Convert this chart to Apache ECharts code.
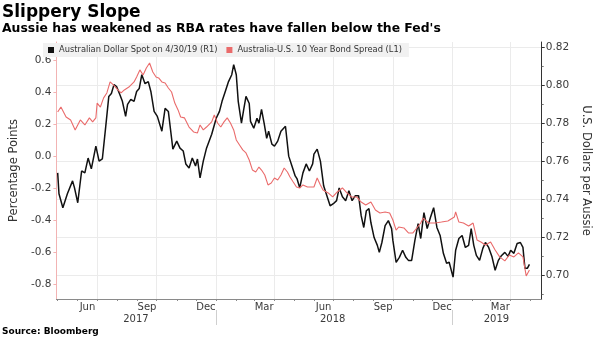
<!DOCTYPE html>
<html>
<head>
<meta charset="utf-8">
<script src="https://cdn.jsdelivr.net/npm/echarts@6/dist/echarts.min.js"></script>
<style>
  html, body { margin: 0; padding: 0; background: #ffffff; }
  #chart { width: 600px; height: 337px; }
</style>
</head>
<body>
<div id="chart"></div>
<script>
// Australian dollar spot, U.S. dollars per Aussie (right axis)
const audSpot = [
  ['2017-05-01', 0.7538], ['2017-05-03', 0.7428], ['2017-05-09', 0.7355], ['2017-05-16', 0.7428],
  ['2017-05-24', 0.7496], ['2017-05-27', 0.7459], ['2017-06-01', 0.7381], ['2017-06-07', 0.7548],
  ['2017-06-12', 0.7538], ['2017-06-17', 0.7616], ['2017-06-22', 0.7559], ['2017-06-29', 0.7679],
  ['2017-07-04', 0.7600], ['2017-07-09', 0.7611], ['2017-07-14', 0.7773], ['2017-07-19', 0.7940],
  ['2017-07-23', 0.7955], ['2017-07-27', 0.8002], ['2017-07-31', 0.7992], ['2017-08-05', 0.7950],
  ['2017-08-09', 0.7914], ['2017-08-14', 0.7835], ['2017-08-17', 0.7898], ['2017-08-22', 0.7924],
  ['2017-08-27', 0.7914], ['2017-08-31', 0.7966], ['2017-09-04', 0.7981], ['2017-09-08', 0.8054],
  ['2017-09-13', 0.8007], ['2017-09-18', 0.8018], ['2017-09-22', 0.7966], ['2017-09-27', 0.7861],
  ['2017-10-02', 0.7835], ['2017-10-09', 0.7757], ['2017-10-14', 0.7877], ['2017-10-19', 0.7861],
  ['2017-10-24', 0.7720], ['2017-10-26', 0.7663], ['2017-11-01', 0.7705], ['2017-11-06', 0.7668],
  ['2017-11-11', 0.7653], ['2017-11-15', 0.7585], ['2017-11-20', 0.7564], ['2017-11-25', 0.7616],
  ['2017-11-30', 0.7574], ['2017-12-03', 0.7611], ['2017-12-07', 0.7512], ['2017-12-12', 0.7600],
  ['2017-12-17', 0.7668], ['2017-12-25', 0.7741], ['2018-01-01', 0.7825], ['2018-01-06', 0.7861],
  ['2018-01-10', 0.7914], ['2018-01-15', 0.7966], ['2018-01-20', 0.8018], ['2018-01-25', 0.8054],
  ['2018-01-28', 0.8107], ['2018-02-01', 0.8054], ['2018-02-04', 0.7914], ['2018-02-09', 0.7799],
  ['2018-02-12', 0.7861], ['2018-02-16', 0.7940], ['2018-02-21', 0.7903], ['2018-02-23', 0.7809],
  ['2018-02-28', 0.7773], ['2018-03-05', 0.7825], ['2018-03-08', 0.7799], ['2018-03-12', 0.7872],
  ['2018-03-16', 0.7799], ['2018-03-20', 0.7720], ['2018-03-23', 0.7757], ['2018-03-28', 0.7689],
  ['2018-04-01', 0.7679], ['2018-04-06', 0.7705], ['2018-04-11', 0.7757], ['2018-04-18', 0.7783],
  ['2018-04-23', 0.7626], ['2018-04-28', 0.7574], ['2018-05-03', 0.7522], ['2018-05-06', 0.7506],
  ['2018-05-10', 0.7459], ['2018-05-15', 0.7538], ['2018-05-20', 0.7585], ['2018-05-25', 0.7548],
  ['2018-05-30', 0.7585], ['2018-06-01', 0.7637], ['2018-06-06', 0.7663], ['2018-06-11', 0.7600],
  ['2018-06-16', 0.7470], ['2018-06-21', 0.7418], ['2018-06-26', 0.7365], ['2018-07-01', 0.7376],
  ['2018-07-06', 0.7392], ['2018-07-10', 0.7459], ['2018-07-15', 0.7412], ['2018-07-20', 0.7392],
  ['2018-07-25', 0.7444], ['2018-07-30', 0.7392], ['2018-08-04', 0.7418], ['2018-08-09', 0.7418],
  ['2018-08-13', 0.7313], ['2018-08-17', 0.7251], ['2018-08-21', 0.7339], ['2018-08-25', 0.7350],
  ['2018-08-28', 0.7277], ['2018-09-02', 0.7198], ['2018-09-07', 0.7157], ['2018-09-10', 0.7120],
  ['2018-09-14', 0.7172], ['2018-09-19', 0.7261], ['2018-09-24', 0.7287], ['2018-09-29', 0.7245],
  ['2018-10-01', 0.7183], ['2018-10-06', 0.7068], ['2018-10-11', 0.7094], ['2018-10-16', 0.7131],
  ['2018-10-21', 0.7094], ['2018-10-25', 0.7078], ['2018-10-30', 0.7078], ['2018-11-04', 0.7183],
  ['2018-11-09', 0.7271], ['2018-11-13', 0.7193], ['2018-11-18', 0.7329], ['2018-11-23', 0.7245],
  ['2018-11-28', 0.7303], ['2018-12-03', 0.7355], ['2018-12-08', 0.7251], ['2018-12-13', 0.7209],
  ['2018-12-18', 0.7115], ['2018-12-23', 0.7063], ['2018-12-27', 0.7068], ['2019-01-02', 0.6990],
  ['2019-01-06', 0.7131], ['2019-01-11', 0.7193], ['2019-01-16', 0.7209], ['2019-01-21', 0.7146],
  ['2019-01-26', 0.7157], ['2019-01-30', 0.7245], ['2019-02-03', 0.7157], ['2019-02-07', 0.7104],
  ['2019-02-12', 0.7078], ['2019-02-17', 0.7141], ['2019-02-21', 0.7172], ['2019-02-26', 0.7146],
  ['2019-03-03', 0.7099], ['2019-03-08', 0.7026], ['2019-03-13', 0.7078], ['2019-03-18', 0.7104],
  ['2019-03-23', 0.7120], ['2019-03-28', 0.7099], ['2019-04-01', 0.7131], ['2019-04-06', 0.7115],
  ['2019-04-11', 0.7167], ['2019-04-16', 0.7172], ['2019-04-20', 0.7146], ['2019-04-23', 0.7037],
  ['2019-04-27', 0.7037], ['2019-04-30', 0.7057]
];

// Australia minus U.S. 10-year yield, percentage points (left axis)
const bondSpread = [
  ['2017-05-01', 0.275], ['2017-05-06', 0.306], ['2017-05-14', 0.244], ['2017-05-21', 0.225],
  ['2017-05-28', 0.163], ['2017-06-05', 0.225], ['2017-06-12', 0.194], ['2017-06-19', 0.238],
  ['2017-06-24', 0.213], ['2017-06-29', 0.238], ['2017-07-01', 0.331], ['2017-07-06', 0.306],
  ['2017-07-11', 0.363], ['2017-07-16', 0.394], ['2017-07-21', 0.463], ['2017-07-26', 0.444],
  ['2017-08-02', 0.413], ['2017-08-07', 0.394], ['2017-08-12', 0.413], ['2017-08-19', 0.431],
  ['2017-08-27', 0.463], ['2017-08-31', 0.494], ['2017-09-05', 0.538], ['2017-09-10', 0.506],
  ['2017-09-15', 0.550], ['2017-09-20', 0.581], ['2017-09-25', 0.525], ['2017-09-30', 0.494],
  ['2017-10-04', 0.488], ['2017-10-09', 0.463], ['2017-10-14', 0.456], ['2017-10-19', 0.425],
  ['2017-10-24', 0.400], ['2017-10-29', 0.331], ['2017-11-03', 0.288], ['2017-11-07', 0.244],
  ['2017-11-13', 0.238], ['2017-11-20', 0.181], ['2017-11-27', 0.150], ['2017-12-03', 0.144],
  ['2017-12-07', 0.194], ['2017-12-12', 0.163], ['2017-12-17', 0.181], ['2017-12-25', 0.213],
  ['2017-12-29', 0.256], ['2018-01-03', 0.206], ['2018-01-08', 0.181], ['2018-01-13', 0.213],
  ['2018-01-18', 0.238], ['2018-01-23', 0.206], ['2018-01-28', 0.163], ['2018-02-01', 0.100],
  ['2018-02-06', 0.069], ['2018-02-11', 0.038], ['2018-02-16', 0.019], ['2018-02-21', -0.025],
  ['2018-02-26', -0.088], ['2018-03-03', -0.100], ['2018-03-08', -0.069], ['2018-03-12', -0.088],
  ['2018-03-17', -0.119], ['2018-03-22', -0.181], ['2018-03-27', -0.169], ['2018-04-01', -0.138],
  ['2018-04-06', -0.150], ['2018-04-11', -0.119], ['2018-04-16', -0.075], ['2018-04-21', -0.100],
  ['2018-04-25', -0.131], ['2018-04-30', -0.163], ['2018-05-05', -0.194], ['2018-05-10', -0.200],
  ['2018-05-15', -0.181], ['2018-05-22', -0.194], ['2018-06-01', -0.194], ['2018-06-06', -0.138],
  ['2018-06-11', -0.181], ['2018-06-15', -0.213], ['2018-06-23', -0.231], ['2018-06-30', -0.256],
  ['2018-07-07', -0.225], ['2018-07-15', -0.200], ['2018-07-22', -0.231], ['2018-07-29', -0.256],
  ['2018-08-06', -0.256], ['2018-08-13', -0.288], ['2018-08-20', -0.306], ['2018-08-28', -0.288],
  ['2018-09-04', -0.338], ['2018-09-11', -0.356], ['2018-09-19', -0.350], ['2018-09-26', -0.356],
  ['2018-10-01', -0.400], ['2018-10-06', -0.463], ['2018-10-10', -0.444], ['2018-10-18', -0.450],
  ['2018-10-25', -0.481], ['2018-11-01', -0.481], ['2018-11-07', -0.450], ['2018-11-13', -0.419],
  ['2018-11-17', -0.388], ['2018-11-25', -0.419], ['2018-12-06', -0.419], ['2018-12-15', -0.413],
  ['2018-12-25', -0.406], ['2019-01-04', -0.381], ['2019-01-06', -0.350], ['2019-01-11', -0.413],
  ['2019-01-18', -0.419], ['2019-01-26', -0.438], ['2019-02-02', -0.419], ['2019-02-08', -0.525],
  ['2019-02-14', -0.538], ['2019-02-21', -0.556], ['2019-03-01', -0.538], ['2019-03-08', -0.588],
  ['2019-03-15', -0.631], ['2019-03-23', -0.656], ['2019-03-30', -0.619], ['2019-04-06', -0.631],
  ['2019-04-13', -0.606], ['2019-04-20', -0.631], ['2019-04-25', -0.750], ['2019-04-30', -0.713]
];

const seriesNames = ['Australian Dollar Spot on 4/30/19 (R1)', 'Australia-U.S. 10 Year Bond Spread (L1)'];

// Axis ticks and labels
const leftTicks = [-0.8, -0.6, -0.4, -0.2, 0.0, 0.2, 0.4, 0.6];
const rightTicks = [0.70, 0.72, 0.74, 0.76, 0.78, 0.80, 0.82];
const rightMinorTicks = [0.69, 0.71, 0.73, 0.75, 0.77, 0.79, 0.81];
const monthStarts = [
  '2017-05-01', '2017-06-01', '2017-07-01', '2017-08-01', '2017-09-01', '2017-10-01', '2017-11-01',
  '2017-12-01', '2018-01-01', '2018-02-01', '2018-03-01', '2018-04-01', '2018-05-01', '2018-06-01',
  '2018-07-01', '2018-08-01', '2018-09-01', '2018-10-01', '2018-11-01', '2018-12-01', '2019-01-01',
  '2019-02-01', '2019-03-01', '2019-04-01', '2019-05-01'
];
const quarterStarts = ['2017-07-01', '2017-10-01', '2018-01-01', '2018-04-01', '2018-07-01', '2018-10-01', '2019-01-01', '2019-04-01'];
const monthLabelDates = ['2017-06-16', '2017-09-16', '2017-12-16', '2018-03-16', '2018-06-16', '2018-09-16', '2018-12-16', '2019-03-16'];
const yearLabelDates = ['2017-08-30', '2018-06-30', '2019-03-10'];
const yearStarts = ['2018-01-01', '2019-01-01'];
const monthNames = ['Jan', 'Feb', 'Mar', 'Apr', 'May', 'Jun', 'Jul', 'Aug', 'Sep', 'Oct', 'Nov', 'Dec'];

// Dates are placed on a numeric (UTC millisecond) x scale
const ts = s => Date.parse(s + 'T00:00:00Z');
const X_MIN = ts('2017-04-29');
const X_MAX = ts('2019-05-19');
const FONT = 'DejaVu Sans';
const AXIS_TEXT = '#3a3a3a';
const GRID_LINE = '#ebebeb';
const RED = '#ea6b6b';
const PINK_AXIS = '#f2b3b3';

function dateAxis(extra) {
  return Object.assign({
    type: 'value', gridIndex: 0, position: 'bottom', min: X_MIN, max: X_MAX,
    axisLine: { show: false, onZero: false },
    axisTick: { show: false },
    axisLabel: { show: false },
    splitLine: { show: false },
    axisPointer: { show: false }
  }, extra);
}

const chart = echarts.init(document.getElementById('chart'), null, { renderer: 'canvas' });

chart.setOption({
  animation: false,
  backgroundColor: '#ffffff',
  textStyle: { fontFamily: FONT },
  title: [
    { text: 'Slippery Slope', left: 2, top: 4, padding: 0,
      textStyle: { fontFamily: FONT, fontWeight: 'bold', fontSize: 17, color: '#000' } },
    { text: "Aussie has weakened as RBA rates have fallen below the Fed's", left: 2, top: 23, padding: 0,
      textStyle: { fontFamily: FONT, fontWeight: 'bold', fontSize: 12.4, color: '#000' } },
    { text: 'Source: Bloomberg', left: 2, top: 327, padding: 0,
      textStyle: { fontFamily: FONT, fontWeight: 'bold', fontSize: 9, color: '#000' } }
  ],
  legend: {
    left: 43, top: 43, padding: [3, 7, 3, 5], backgroundColor: '#f1f1f1',
    itemWidth: 6, itemHeight: 6, itemGap: 9, icon: 'rect',
    textStyle: { fontFamily: FONT, fontSize: 8.3, color: '#333' },
    data: seriesNames
  },
  grid: { left: 43, right: 44, top: 42, bottom: 38, containLabel: false },
  xAxis: [
    // data axis with monthly ticks
    dateAxis({
      axisLine: { show: true, onZero: false, lineStyle: { color: '#8a8a8a', width: 1 } },
      axisTick: { show: true, customValues: monthStarts.map(ts), length: 2, lineStyle: { color: '#8a8a8a' } }
    }),
    // quarterly vertical grid lines
    dateAxis({
      axisTick: { show: false, customValues: quarterStarts.map(ts) },
      splitLine: { show: true, lineStyle: { color: GRID_LINE, width: 1 } }
    }),
    // month names
    dateAxis({
      axisLabel: {
        show: true, customValues: monthLabelDates.map(ts), margin: 3, hideOverlap: false,
        fontFamily: FONT, fontSize: 10, color: AXIS_TEXT,
        formatter: v => monthNames[new Date(v).getUTCMonth()]
      }
    }),
    // years
    dateAxis({
      axisLabel: {
        show: true, customValues: yearLabelDates.map(ts), margin: 15, hideOverlap: false,
        fontFamily: FONT, fontSize: 10, color: AXIS_TEXT,
        formatter: v => String(new Date(v).getUTCFullYear())
      }
    }),
    // year separators below the axis
    dateAxis({
      offset: 11,
      axisTick: { show: true, customValues: yearStarts.map(ts), length: 15, lineStyle: { color: '#cfcfcf' } }
    })
  ],
  yAxis: [
    {
      type: 'value', gridIndex: 0, position: 'left', min: -0.894, max: 0.7125,
      name: 'Percentage Points', nameLocation: 'middle', nameRotate: 90, nameGap: 31,
      nameTextStyle: { fontFamily: FONT, fontSize: 11.5, color: '#333' },
      axisLine: { show: true, onZero: false, lineStyle: { color: PINK_AXIS, width: 1 } },
      axisTick: { show: true, customValues: leftTicks, length: 3, lineStyle: { color: PINK_AXIS } },
      axisLabel: {
        show: true, customValues: leftTicks, margin: 5, fontFamily: FONT, fontSize: 10.5, color: AXIS_TEXT,
        formatter: v => v.toFixed(1)
      },
      splitLine: { show: false }
    },
    {
      type: 'value', gridIndex: 0, position: 'right', min: 0.6875, max: 0.8226,
      name: 'U.S. Dollars per Aussie', nameLocation: 'middle', nameRotate: -90, nameGap: 32,
      nameTextStyle: { fontFamily: FONT, fontSize: 11.5, color: '#333' },
      axisLine: { show: true, onZero: false, lineStyle: { color: '#333', width: 1 } },
      axisTick: { show: true, customValues: rightTicks, length: 3, lineStyle: { color: '#333' } },
      axisLabel: {
        show: true, customValues: rightTicks, margin: 4, fontFamily: FONT, fontSize: 10.5, color: AXIS_TEXT,
        formatter: v => v.toFixed(2)
      },
      splitLine: { show: true, lineStyle: { color: GRID_LINE, width: 1 } }
    },
    {
      type: 'value', gridIndex: 0, position: 'right', min: 0.6875, max: 0.8226,
      axisLine: { show: false, onZero: false },
      axisTick: { show: true, customValues: rightMinorTicks, length: 2, lineStyle: { color: '#777' } },
      axisLabel: { show: false },
      splitLine: { show: false }
    }
  ],
  series: [
    {
      name: seriesNames[0], type: 'line', xAxisIndex: 0, yAxisIndex: 1,
      data: audSpot.map(([d, v]) => [ts(d), v]), showSymbol: false, symbol: 'none',
      itemStyle: { color: '#111' },
      lineStyle: { color: '#111', width: 1.5 },
      z: 3
    },
    {
      name: seriesNames[1], type: 'line', xAxisIndex: 0, yAxisIndex: 0,
      data: bondSpread.map(([d, v]) => [ts(d), v]), showSymbol: false, symbol: 'none',
      itemStyle: { color: RED },
      lineStyle: { color: RED, width: 1.1 },
      z: 4
    }
  ]
});
</script>
</body>
</html>
